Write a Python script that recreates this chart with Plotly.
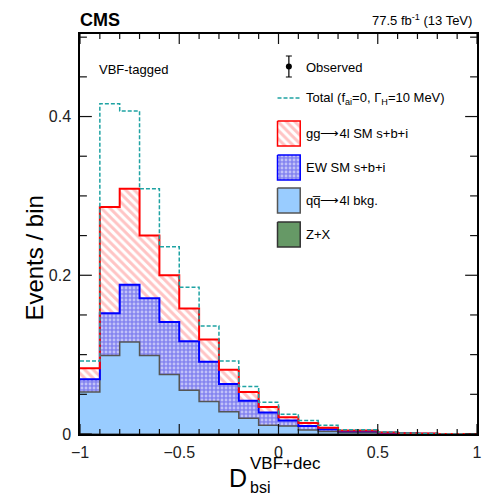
import numpy as np
import plotly.graph_objects as go

# ---------------- data ----------------
bin_edges = [-1.0, -0.9, -0.8, -0.7, -0.6, -0.5, -0.4, -0.3, -0.2, -0.1, 0.0,
             0.1, 0.2, 0.3, 0.4, 0.5, 0.6, 0.7, 0.8, 0.9, 1.0]
zx = [0, 0, 0, 0, 0, 0, 0, 0, 0, 0, 0, 0, 0, 0, 0, 0, 0, 0, 0, 0]
qq = [0.053, 0.099, 0.116, 0.099, 0.075, 0.055, 0.041, 0.028, 0.020, 0.011,
      0.010, 0.005, 0.003, 0.0015, 0.0015, 0.0005, 0.0003, 0.0001, 0, 0]
ew = [0.016, 0.053, 0.072, 0.072, 0.066, 0.062, 0.050, 0.035, 0.022, 0.016,
      0.007, 0.005, 0.003, 0.002, 0.002, 0.001, 0.0005, 0.0002, 0, 0]
gg = [0.014, 0.134, 0.121, 0.079, 0.059, 0.041, 0.028, 0.018, 0.011, 0.007,
      0.004, 0.004, 0.002, 0.001, 0.001, 0.0005, 0.0002, 0.0002, 0, 0]
total_alt = [0.092, 0.416, 0.407, 0.309, 0.236, 0.185, 0.136, 0.092, 0.060, 0.040,
             0.025, 0.017, 0.011, 0.0055, 0.0055, 0.0025, 0.0012, 0.0006, 0, 0]

x_ticks = [-1, -0.5, 0, 0.5, 1]
x_ticklabels = ["\u22121", "\u22120.5", "0", "0.5", "1"]
x_minor = [-0.9, -0.8, -0.7, -0.6, -0.4, -0.3, -0.2, -0.1,
           0.1, 0.2, 0.3, 0.4, 0.6, 0.7, 0.8, 0.9]
y_ticks = [0, 0.2, 0.4]
y_ticklabels = ["0", "0.2", "0.4"]
y_minor = [0.05, 0.1, 0.15, 0.25, 0.3, 0.35, 0.45, 0.5]

FONT = "Liberation Sans, Arial, sans-serif"
XR = [-1, 1]
YR = [0, 0.504]
PL, PR, PT, PB = 80, 482, 34, 434   # plot area in pixels
KX = (XR[1] - XR[0]) / (PR - PL)     # data units per pixel
KY = (YR[1] - YR[0]) / (PB - PT)
TICK_COLOR = "#111111"

def dx(px):
    return XR[0] + (px - PL) * KX

def dy(py):
    return YR[0] + (PB - py) * KY

def step(vals):
    return list(vals) + [vals[-1]]

c_zx = np.array(zx, dtype=float)
c_qq = c_zx + np.array(qq)
c_ew = c_qq + np.array(ew)
c_gg = c_ew + np.array(gg)

GG_PAT = dict(shape="\\", fgcolor="#ff8a8a", bgcolor="white", size=6, solidity=0.5)
EW_PAT = dict(shape=".", fgcolor="white", bgcolor="#8585f0", size=4, solidity=0.4)
TEAL = "#1fa3a3"

fig = go.Figure()

fig.add_trace(go.Scatter(x=bin_edges, y=step(c_zx), mode="lines", line_shape="hv",
                         line=dict(color="#333333", width=1), fill="tozeroy",
                         fillcolor="#669966", showlegend=False))
fig.add_trace(go.Scatter(x=bin_edges, y=step(c_qq), mode="lines", line_shape="hv",
                         line=dict(color="#555555", width=1.5), fill="tonexty",
                         fillcolor="#99ccff", showlegend=False))
fig.add_trace(go.Scatter(x=bin_edges, y=step(c_ew), mode="lines", line_shape="hv",
                         line=dict(color="#0000ff", width=2), fill="tonexty",
                         fillcolor="#8585f0", fillpattern=EW_PAT, showlegend=False))
fig.add_trace(go.Scatter(x=bin_edges, y=step(c_gg), mode="lines", line_shape="hv",
                         line=dict(color="#ff0000", width=2), fill="tonexty",
                         fillcolor="white", fillpattern=GG_PAT, showlegend=False))
fig.add_trace(go.Scatter(x=bin_edges, y=step(total_alt), mode="lines", line_shape="hv",
                         line=dict(color=TEAL, width=1.5, dash="4px,2px"),
                         showlegend=False))

# ---------------- ticks (inside, on all four sides) ----------------
for vals, L in ((x_ticks, 10), (x_minor, 5)):
    for v in vals:
        for y0, y1 in ((YR[0], YR[0] + L * KY), (YR[1], YR[1] - L * KY)):
            fig.add_trace(go.Scatter(x=[v, v], y=[y0, y1], mode="lines",
                                     line=dict(color=TICK_COLOR, width=1.2),
                                     showlegend=False, hoverinfo="skip"))
for vals, L in ((y_ticks, 12), (y_minor, 7)):
    for v in vals:
        for x0, x1 in ((XR[0], XR[0] + L * KX), (XR[1], XR[1] - L * KX)):
            fig.add_trace(go.Scatter(x=[x0, x1], y=[v, v], mode="lines",
                                     line=dict(color=TICK_COLOR, width=1.2),
                                     showlegend=False, hoverinfo="skip"))

# ---------------- legend ----------------
def box(x0, y0, x1, y1, line, fill, pattern=None):
    kw = dict(x=[dx(x0), dx(x1), dx(x1), dx(x0), dx(x0)],
              y=[dy(y0), dy(y0), dy(y1), dy(y1), dy(y0)], mode="lines",
              fill="toself", fillcolor=fill, line=dict(color=line, width=1.5),
              showlegend=False, hoverinfo="skip")
    if pattern:
        kw["fillpattern"] = pattern
    fig.add_trace(go.Scatter(**kw))

box(280, 121, 303, 146, "#ff0000", "white", GG_PAT)
box(280, 155, 303, 180, "#0000ff", "#8585f0", EW_PAT)
box(280, 188, 303, 213, "#555555", "#99ccff")
box(280, 222, 303, 247, "#333333", "#669966")

fig.add_trace(go.Scatter(x=[dx(280), dx(303)], y=[dy(98), dy(98)], mode="lines",
                         line=dict(color=TEAL, width=1.5, dash="4px,2px"),
                         showlegend=False))
fig.add_trace(go.Scatter(x=[dx(291.5)], y=[dy(66.5)], mode="markers",
                         marker=dict(color="black", size=6),
                         error_y=dict(type="constant", value=10.5 * KY,
                                      color="black", thickness=1.2, width=3),
                         showlegend=False))

ann = []
def txt(px, py, t, size=13, xanchor="left", **kw):
    ann.append(dict(x=(px - PL) / (PR - PL), y=(PB - py) / (PB - PT),
                    xref="paper", yref="paper", text=t, showarrow=False,
                    xanchor=xanchor, yanchor="middle",
                    font=dict(family=FONT, size=size, color="black"), **kw))

txt(307, 67, "Observed")
txt(307, 98, "Total (f<sub>ai</sub>=0, \u0393<sub>H</sub>=10 MeV)")
txt(307, 133, "gg\u27f64l SM s+b+i")
txt(307, 167, "EW SM s+b+i")
txt(307, 200, "qq\u0305\u27f64l bkg.")
txt(307, 234, "Z+X")
txt(97, 70, "VBF-tagged")
txt(78, 20, "<b>CMS</b>", size=18)
txt(479, 20, "77.5 fb<sup>-1</sup> (13 TeV)", size=13, xanchor="right")
txt(33, 258, "Events / bin", size=24, xanchor="center", textangle=-90)
txt(240, 478, "D", size=25, xanchor="center")
txt(250, 463, "VBF+dec", size=17)
txt(250, 487, "bsi", size=16)

axis_common = dict(ticks="", showline=True, linecolor="black", linewidth=1.5,
                   mirror=True, showgrid=False, zeroline=False,
                   tickfont=dict(family=FONT, size=16, color="#222222"))

fig.update_layout(
    width=485, height=497,
    margin=dict(l=PL, r=485 - PR, t=PT, b=497 - PB),
    paper_bgcolor="white", plot_bgcolor="white",
    showlegend=False,
    xaxis=dict(range=XR, tickvals=x_ticks, ticktext=x_ticklabels,
               ticklabelstandoff=3, **axis_common),
    yaxis=dict(range=YR, tickvals=y_ticks, ticktext=y_ticklabels,
               ticklabelstandoff=4, **axis_common),
    annotations=ann,
)

fig.write_html("out.html")
